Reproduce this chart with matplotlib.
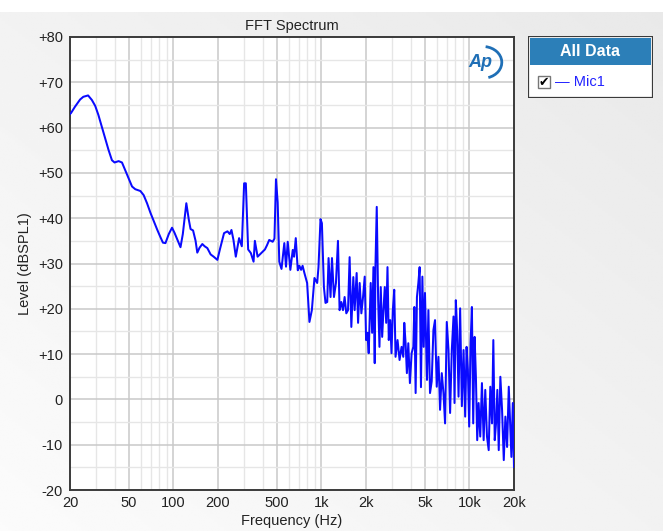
import numpy as np
import matplotlib
matplotlib.use("Agg")
import matplotlib.pyplot as plt
from matplotlib.patches import Rectangle, Arc

plt.rcParams['font.family'] = ['Liberation Sans', 'DejaVu Sans']

# ---- data (frequency in Hz, level in dBSPL) ----
freq = [20, 20.3, 21.6, 23.4, 24.6, 26.5, 28.1, 29.6, 31.1, 32.8, 34.6, 36.4, 38.4, 40.0,
        42.6, 44.9, 47.2, 49.8, 52.5, 55.2, 59.8, 62.9, 66.3, 69.9, 73.5, 77.6, 81.7, 84.9,
        88.3, 93.0, 97.8, 101.6, 106.5, 111.6, 115.7, 122.2, 127.1, 130.5, 135.7, 141.1,
        144.9, 150.2, 156.7, 162.5, 169.4, 178.4, 187.0, 198.1, 206.3, 219.7, 231.7, 240.1,
        246.6, 254.4, 263.8, 277.7, 289.7, 300.3, 308.4, 319.7, 333.4, 347.8, 354.9, 370.3,
        383.8, 400.4, 415.0, 428.2, 443.8, 468.1, 481.4, 492.9, 506.1, 518.9, 537.1, 561.2,
        576.2, 591.7, 616.4, 639.9, 653.1, 670.7, 691.9, 709.5, 728.5, 745.8, 767.1, 800.3,
        829.6, 861.3, 897.0, 935.8, 955.0, 985.3, 1007, 1039, 1065, 1094, 1117, 1152, 1178,
        1215, 1253, 1293, 1326, 1362, 1398, 1434, 1472, 1512, 1550, 1592, 1642, 1676, 1729,
        1768, 1812, 1861, 1911, 1960, 2003, 2044, 2086, 2152, 2200, 2245, 2291, 2316, 2364,
        2416, 2466, 2516, 2572, 2624, 2679, 2738, 2794, 2851, 2914, 2974, 3036, 3103, 3167,
        3267, 3371, 3478, 3572, 3628, 3703, 3778, 3862, 3960, 4067, 4176, 4242, 4329, 4418,
        4516, 4608, 4703, 4807, 4906, 5006, 5166, 5280, 5414, 5559, 5708, 5853, 6010, 6173,
        6330, 6500, 6675, 6844, 7028, 7218, 7400, 7600, 7804, 7927, 8090, 8256, 8439, 8652,
        8886, 9125, 9356, 9563, 9759, 9959, 10179, 10388, 10602, 10836, 11058, 11284, 11534,
        11827, 12145, 12472, 12790, 13136, 13490, 13832, 14206, 14500, 14820, 15124, 15434,
        15774, 16174, 16610, 17058, 17490, 17962, 18440, 18910, 19206, 19632, 20000]

level = [63.0, 63.2, 64.6, 66.2, 66.8, 67.1, 66.1, 64.8, 62.8, 60.2, 57.6, 55.1, 52.8, 52.3,
         52.6, 52.3, 50.6, 48.8, 47.0, 46.4, 46.0, 45.1, 43.3, 41.2, 39.4, 37.5, 35.8, 34.6,
         34.5, 36.5, 37.9, 36.8, 35.2, 33.6, 36.5, 43.3, 39.6, 37.6, 37.3, 35.0,
         32.4, 33.5, 34.3, 33.8, 33.4, 32.0, 31.5, 30.8, 33.2, 36.7, 37.1, 36.5,
         37.4, 35.2, 31.5, 35.6, 33.8, 47.7, 47.7, 33.1, 32.3, 30.4, 35.0, 31.5,
         32.0, 32.6, 33.1, 34.0, 35.2, 34.8, 35.5, 48.6, 43.5, 30.4, 28.8, 34.5,
         29.3, 34.8, 28.6, 33.0, 31.5, 35.6, 28.5, 29.5, 28.6, 29.5, 27.9, 25.7,
         17.1, 19.7, 26.8, 25.7, 29.2, 39.8, 38.9, 24.8, 21.3, 21.5, 31.2, 22.6, 31.2,
         22.6, 25.7, 35.0, 19.7, 21.5, 19.7, 22.6, 19.0, 19.7, 31.4, 16.0, 27.0, 19.7, 27.9,
         16.9, 25.7, 19.0, 22.7, 27.1, 13.1, 14.7, 10.2, 25.7, 14.7, 29.2, 8.0, 29.2, 42.5,
         22.0, 11.6, 24.8, 13.8, 19.7, 24.8, 16.9, 29.2, 13.1, 17.5, 10.2, 19.7, 24.2, 9.4,
         13.1, 8.7, 11.6, 9.4, 16.9, 12.4, 5.8, 12.4, 3.6, 10.2, 11.6, 20.4, 1.4, 22.6,
         25.7, 29.2, 2.7, 27.1, 11.6, 23.5, 4.3, 19.7, 1.4, 4.0, 15.3, 17.5, 2.8, 9.4,
         -2.3, 5.8, 1.4, -5.3, 17.1, 10.9, -3.0, 10.9, 18.3, -0.8, 21.9, 15.3, 0.6, 20.1,
         -1.5, 10.9, -3.8, 11.6, 6.5, -6.0, 12.4, 20.4, -5.3, 13.8, 5.0, -9.0, -0.8,
         -8.2, 3.6, -9.0, 2.1, -8.2, -11.2, 2.8, -5.3, 13.1, -9.0, -5.3, 2.1,
         -11.2, 5.0, -2.3, -13.4, -3.8, -10.5, 2.8, -6.8, -12.7, -0.8, -14.9]

xticks = [20, 50, 100, 200, 500, 1000, 2000, 5000, 10000, 20000]
xticklabels = ['20', '50', '100', '200', '500', '1k', '2k', '5k', '10k', '20k']
yticks = [-20, -10, 0, 10, 20, 30, 40, 50, 60, 70, 80]
yticklabels = ['-20', '-10', '0', '+10', '+20', '+30', '+40', '+50', '+60', '+70', '+80']
series_name = 'Mic1'

W, H = 663, 531
fig = plt.figure(figsize=(W / 100, H / 100), dpi=100)
fig.patch.set_facecolor('white')

# background gradient panel
bg = fig.add_axes([0, 0, 1, 1 - 12 / H], zorder=-10)
gx = np.linspace(0, 1, 200)
gy = np.linspace(0, 1, 200)
GX, GY = np.meshgrid(gx, gy)
val = 0.985 - 0.06 * (0.6 * GX + 0.6 * GY)
bg.imshow(val, cmap='gray', vmin=0, vmax=1, extent=[0, 1, 0, 1], origin='lower', aspect='auto')
bg.axis('off')

ax = fig.add_axes([70 / W, 1 - 490 / H, 444 / W, 453 / H])
ax.set_facecolor('white')
ax.set_xscale('log')
ax.set_xlim(20, 20000)
ax.set_ylim(-20, 80)

# grid
minor_x = [30, 40, 60, 70, 80, 90, 300, 400, 600, 700, 800, 900,
           3000, 4000, 6000, 7000, 8000, 9000]
major_x = [50, 100, 200, 500, 1000, 2000, 5000, 10000]
for xv in minor_x:
    ax.axvline(xv, color='#e6e6e6', lw=1.0, zorder=0)
for xv in major_x:
    ax.axvline(xv, color='#c9c9c9', lw=1.1, zorder=0)
for yv in np.arange(-15, 80, 10):
    ax.axhline(yv, color='#e6e6e6', lw=1.0, zorder=0)
for yv in range(-10, 80, 10):
    ax.axhline(yv, color='#c9c9c9', lw=1.1, zorder=0)

ax.plot(freq, level, color='#0a0aff', lw=1.45, zorder=3)

ax.set_xticks(xticks)
ax.set_xticklabels(xticklabels)
ax.xaxis.set_minor_locator(matplotlib.ticker.NullLocator())
ax.set_yticks(yticks)
ax.set_yticklabels(yticklabels)
ax.tick_params(axis='both', length=0, labelsize=10.5, colors='#222222')
ax.tick_params(axis='x', pad=4)
ax.tick_params(axis='y', pad=5)
for s in ax.spines.values():
    s.set_color('#3a3a3a')
    s.set_linewidth(1.4)

ax.set_title('FFT Spectrum', fontsize=10.5, color='#222222', pad=5)
ax.set_xlabel('Frequency (Hz)', fontsize=10.5, color='#222222', labelpad=3)
ax.set_ylabel('Level (dBSPL1)', fontsize=10.5, color='#222222', labelpad=4)

# AP logo
ax.text(0.925, 0.944, 'Ap', transform=ax.transAxes, fontsize=13, fontweight='bold',
        fontstyle='italic', color='#1f6fb6', ha='center', va='center', zorder=5)
logo = Arc((0.93, 0.944), 0.085, 0.07, angle=0, theta1=-70, theta2=80,
           transform=ax.transAxes, color='#1f6fb6', lw=2.0, zorder=5)
ax.add_patch(logo)

# legend panel
lg = fig.add_axes([528 / W, 1 - 98 / H, 125 / W, 62 / H])
lg.set_xlim(0, 125)
lg.set_ylim(62, 0)
lg.axis('off')
lg.add_patch(Rectangle((0, 0), 125, 62, facecolor='white', edgecolor='#3a3a3a', lw=1.6))
lg.add_patch(Rectangle((2, 2), 121, 27, facecolor='#2c7fb8', edgecolor='none'))
lg.text(62, 16, 'All Data', color='white', fontsize=11.5, fontweight='bold',
        ha='center', va='center')
lg.add_patch(Rectangle((10, 40), 12, 12, facecolor='white', edgecolor='#777777', lw=1.0))
lg.text(16, 46.5, '✔', color='black', fontsize=9, ha='center', va='center',
        family=['DejaVu Sans'])
lg.text(27, 46, '— ' + series_name, color='#2222ff', fontsize=10.5, ha='left', va='center')

fig.savefig('out.png', dpi=100)
